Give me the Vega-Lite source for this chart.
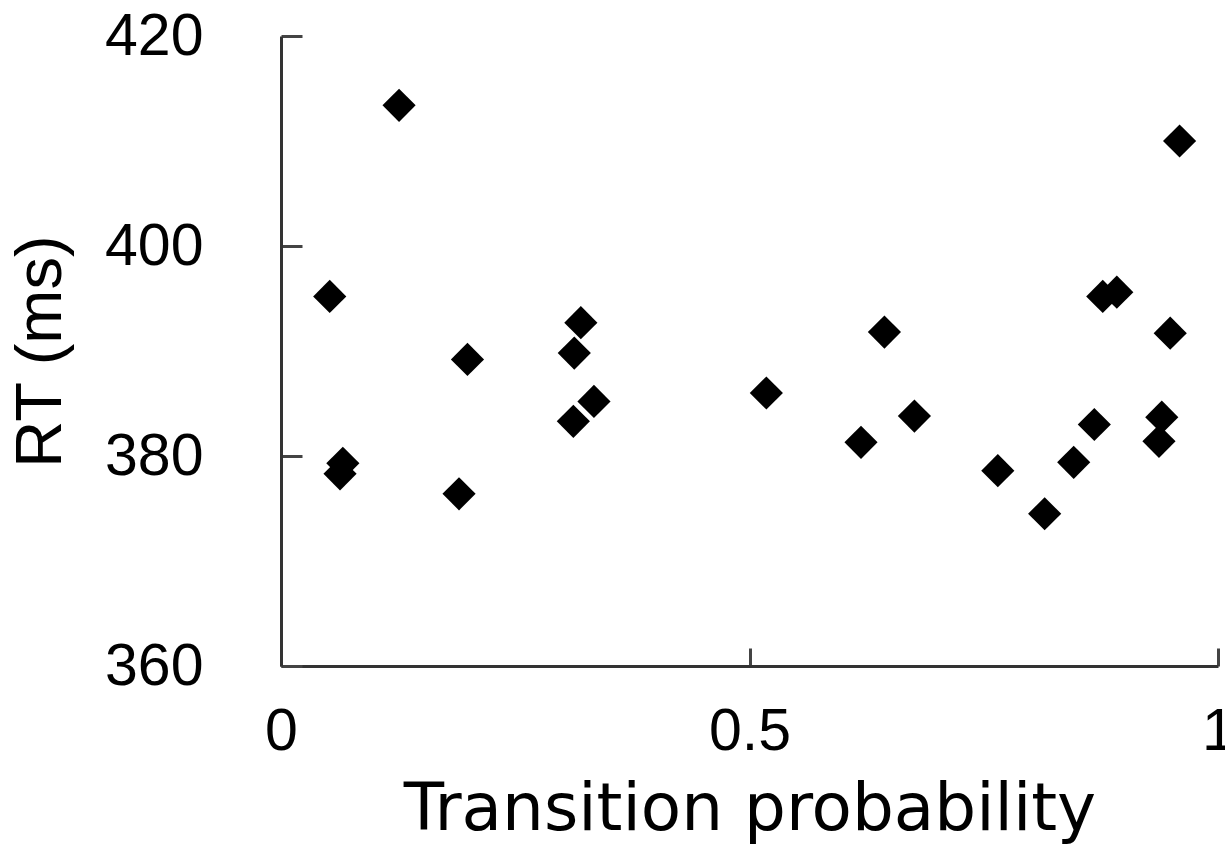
{
  "$schema": "https://vega.github.io/schema/vega-lite/v6.json",
  "autosize": "none",
  "width": 937,
  "height": 630,
  "padding": {"left": 281, "top": 36, "right": 7, "bottom": 200},
  "background": "white",
  "config": {
    "view": {"stroke": null},
    "font": "Liberation Sans",
    "axis": {
      "grid": false,
      "domainColor": "#333333",
      "domainWidth": 3,
      "tickColor": "#444444",
      "tickWidth": 3,
      "labelColor": "#000",
      "titleColor": "#000",
      "labelFont": "Liberation Sans",
      "titleFont": "Liberation Sans",
      "labelFontWeight": "normal",
      "titleFontWeight": "normal"
    }
  },
  "data": {
    "values": [
      {"p": 0.052, "rt": 395.2},
      {"p": 0.066, "rt": 379.3},
      {"p": 0.063, "rt": 378.3},
      {"p": 0.126, "rt": 413.4},
      {"p": 0.190, "rt": 376.4},
      {"p": 0.199, "rt": 389.2},
      {"p": 0.313, "rt": 389.8},
      {"p": 0.320, "rt": 392.7},
      {"p": 0.312, "rt": 383.3},
      {"p": 0.334, "rt": 385.2},
      {"p": 0.518, "rt": 386.0},
      {"p": 0.619, "rt": 381.3},
      {"p": 0.644, "rt": 391.8},
      {"p": 0.676, "rt": 383.8},
      {"p": 0.765, "rt": 378.6},
      {"p": 0.815, "rt": 374.5},
      {"p": 0.846, "rt": 379.4},
      {"p": 0.868, "rt": 383.0},
      {"p": 0.877, "rt": 395.2},
      {"p": 0.892, "rt": 395.6},
      {"p": 0.937, "rt": 381.4},
      {"p": 0.940, "rt": 383.7},
      {"p": 0.949, "rt": 391.7},
      {"p": 0.959, "rt": 410.0}
    ]
  },
  "mark": {"type": "point", "shape": "diamond", "filled": true, "color": "#000", "opacity": 1, "size": 1100},
  "encoding": {
    "x": {
      "field": "p",
      "type": "quantitative",
      "scale": {"domain": [0, 1], "nice": false, "zero": false},
      "axis": {
        "title": "Transition probability",
        "titleFont": "DejaVu Sans",
        "values": [0, 0.5, 1],
        "labelExpr": "datum.value == 0 ? '0' : datum.value == 1 ? '1' : '0.5'",
        "tickSize": -18,
        "labelPadding": 54,
        "labelFontSize": 59,
        "titleFontSize": 66,
        "titlePadding": 16,
        "labelFlush": false,
        "labelOverlap": false
      }
    },
    "y": {
      "field": "rt",
      "type": "quantitative",
      "scale": {"domain": [360, 420], "nice": false, "zero": false},
      "axis": {
        "title": "RT (ms)",
        "values": [360, 380, 400, 420],
        "tickSize": -21,
        "labelPadding": 99,
        "labelFontSize": 59,
        "titleFontSize": 65,
        "titlePadding": 30,
        "labelFlush": false,
        "labelOverlap": false
      }
    }
  }
}
